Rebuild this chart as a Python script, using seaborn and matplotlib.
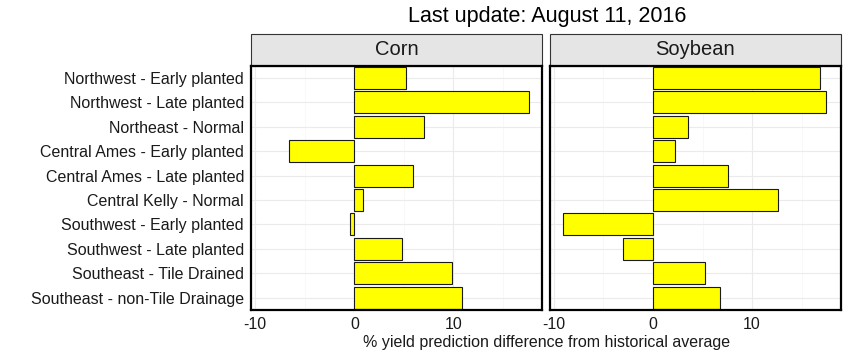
import pandas as pd
import seaborn as sns
import matplotlib.pyplot as plt
from matplotlib.patches import Rectangle
from matplotlib.ticker import MultipleLocator

# data
regions = ["Northwest - Early planted", "Northwest - Late planted", "Northeast - Normal",
           "Central Ames - Early planted", "Central Ames - Late planted", "Central Kelly - Normal",
           "Southwest - Early planted", "Southwest - Late planted", "Southeast - Tile Drained",
           "Southeast - non-Tile Drainage"]
corn = [5.2, 17.6, 7.0, -6.6, 5.9, 0.85, -0.45, 4.8, 9.9, 10.9]
soybean = [16.9, 17.5, 3.5, 2.2, 7.6, 12.6, -9.1, -3.0, 5.25, 6.8]
crops = ["Corn", "Soybean"]
xticks = [-10, 0, 10]

df = pd.concat([
    pd.DataFrame({"region": regions, "value": corn, "crop": "Corn"}),
    pd.DataFrame({"region": regions, "value": soybean, "crop": "Soybean"}),
])

sns.set_style("white")
plt.rcParams['font.family'] = ['Liberation Sans', 'DejaVu Sans']
plt.rcParams['axes.unicode_minus'] = False

fig, axes = plt.subplots(1, 2, figsize=(8.48, 3.59), dpi=100, sharey=True)
fig.subplots_adjust(left=0.296, right=0.9914, top=0.817, bottom=0.1365, wspace=0.026)

for ax, crop in zip(axes, crops):
    sub = df[df["crop"] == crop]
    sns.barplot(data=sub, x="value", y="region", order=regions, color="#FFFF00",
                saturation=1, edgecolor="#1a1a1a", linewidth=0.8, width=0.9, ax=ax)
    ax.set_xlim(-10.43, 18.94)
    ax.xaxis.set_major_locator(MultipleLocator(10))
    ax.xaxis.set_minor_locator(MultipleLocator(5))
    ax.set_xticks(xticks)
    ax.set_axisbelow(True)
    ax.grid(True, which="major", color="#EBEBEB", linewidth=0.8)
    ax.grid(True, which="minor", axis="x", color="#F5F5F5", linewidth=0.5)
    for s in ax.spines.values():
        s.set_visible(True)
        s.set_color("black")
        s.set_linewidth(1.6)
    ax.tick_params(axis="both", which="major", length=3, width=0.8, color="#333333",
                   labelsize=11.5, labelcolor="#1a1a1a", pad=2)
    ax.tick_params(axis="x", which="minor", length=0)
    ax.set_xlabel("")
    ax.set_ylabel("")
    # facet strip
    ax.add_patch(Rectangle((0, 1.0), 1, 0.13, transform=ax.transAxes, clip_on=False,
                           facecolor="#E5E5E5", edgecolor="#333333", linewidth=0.8))
    ax.text(0.5, 1.065, crop, transform=ax.transAxes, ha="center", va="center",
            fontsize=14.5, color="#1a1a1a")

axes[1].tick_params(axis="y", length=0, labelleft=False)

fig.text(0.644, 0.045, "% yield prediction difference from historical average",
         ha="center", va="center", fontsize=11.5, color="#1a1a1a")
fig.text(0.645, 0.955, "Last update: August 11, 2016", ha="center", va="center",
         fontsize=15.5, color="black")

fig.savefig("out.png", dpi=100)
